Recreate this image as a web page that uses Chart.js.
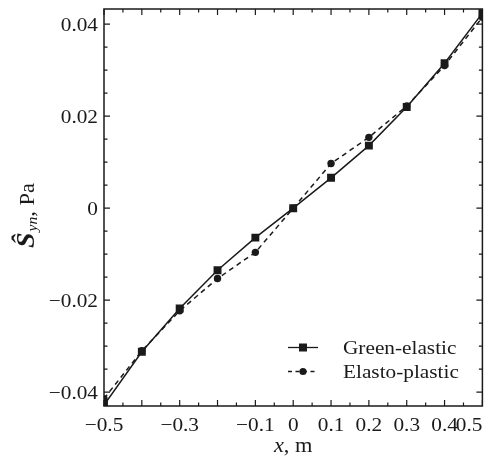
<!DOCTYPE html>
<html><head><meta charset="utf-8">
<script src="https://cdn.jsdelivr.net/npm/chart.js@4/dist/chart.umd.min.js"></script>
<style>html,body{margin:0;padding:0;background:#fff}#wrap{width:488px;height:468px}</style>
</head><body><div id="wrap"><canvas id="c" width="488" height="468"></canvas></div>
<script>
const xValues = [-0.5, -0.4, -0.3, -0.2, -0.1, 0, 0.1, 0.2, 0.3, 0.4, 0.5];
const greenElastic = [-0.0428, -0.0312, -0.0218, -0.0135, -0.0064, 0, 0.0066, 0.0136, 0.0220, 0.0315, 0.0424];
const elastoPlastic = [-0.0414, -0.0310, -0.0223, -0.0153, -0.0096, 0, 0.0097, 0.0154, 0.0222, 0.0310, 0.0415];
const seriesNames = ['Green-elastic', 'Elasto-plastic'];
const xTickValues = [-0.5, -0.3, -0.1, 0, 0.1, 0.2, 0.3, 0.4, 0.5];
const xTickLabels = ['\u22120.5', '\u22120.3', '\u22120.1', '0', '0.1', '0.2', '0.3', '0.4', '0.5'];
const xMajorTicks = [-0.5, -0.4, -0.3, -0.2, -0.1, 0, 0.1, 0.2, 0.3, 0.4, 0.5];
const xMinorTicks = [-0.45, -0.35, -0.25, -0.15, -0.05, 0.05, 0.15, 0.25, 0.35, 0.45];
const yTickValues = [-0.04, -0.02, 0, 0.02, 0.04];
const yTickLabels = ['\u22120.04', '\u22120.02', '0', '0.02', '0.04'];
const yMinorTicks = [-0.035, -0.03, -0.025, -0.015, -0.01, -0.005, 0.005, 0.01, 0.015, 0.025, 0.03, 0.035];
const xTitle = ['x', ', m'];
const yTitle = ['\u015C', 'yn', ', Pa'];

const INK = '#1a1a1a';
const SX = 1.12;
const FAM = '"Liberation Serif", "Times New Roman", Times, serif';
function txt(ctx, s, x, y, font, align) {
  ctx.font = font;
  const w = ctx.measureText(s).width * SX;
  let left = x;
  if (align === 'center') left = x - w / 2;
  else if (align === 'right') left = x - w;
  ctx.save();
  ctx.translate(left, y);
  ctx.scale(SX, 1);
  ctx.textAlign = 'left';
  ctx.fillText(s, 0, 0);
  ctx.restore();
  return w;
}
function tw(ctx, s, font) { ctx.font = font; return ctx.measureText(s).width * SX; }

const framePlugin = {
  id: 'frame',
  afterDraw(chart) {
    const { ctx, chartArea: a, scales: { x, y } } = chart;
    ctx.save();
    ctx.strokeStyle = INK; ctx.fillStyle = INK;
    ctx.lineWidth = 1.5;
    ctx.strokeRect(a.left, a.top, a.right - a.left, a.bottom - a.top);
    ctx.lineWidth = 1.2;
    ctx.beginPath();
    const MJ = 6, MN = 3.5;
    const xt = (v, L) => { const p = x.getPixelForValue(v); ctx.moveTo(p, a.bottom); ctx.lineTo(p, a.bottom - L); ctx.moveTo(p, a.top); ctx.lineTo(p, a.top + L); };
    const yt = (v, L) => { const p = y.getPixelForValue(v); ctx.moveTo(a.left, p); ctx.lineTo(a.left + L, p); ctx.moveTo(a.right, p); ctx.lineTo(a.right - L, p); };
    xMajorTicks.forEach(v => xt(v, MJ)); xMinorTicks.forEach(v => xt(v, MN));
    yTickValues.forEach(v => yt(v, MJ)); yMinorTicks.forEach(v => yt(v, MN));
    ctx.stroke();
    ctx.textBaseline = 'alphabetic';
    const F = '19px ' + FAM;
    xTickValues.forEach((v, i) => {
      const p = x.getPixelForValue(v);
      const w = tw(ctx, xTickLabels[i], F);
      let left = p - w / 2;
      if (left + w > a.right) left = a.right - w;
      txt(ctx, xTickLabels[i], left, a.bottom + 25, F, 'left');
    });
    yTickValues.forEach((v, i) => {
      const p = y.getPixelForValue(v);
      txt(ctx, yTickLabels[i], a.left - 6, p + 6.5, F, 'right');
    });
    // x title
    const FI = 'italic 20px ' + FAM, FN = '20px ' + FAM;
    const w1 = tw(ctx, xTitle[0], FI), w2 = tw(ctx, xTitle[1], FN);
    const cx = (a.left + a.right) / 2;
    let sx = cx - (w1 + w2) / 2;
    txt(ctx, xTitle[0], sx, 452, FI, 'left');
    txt(ctx, xTitle[1], sx + w1, 452, FN, 'left');
    // y title (rotated)
    ctx.save();
    ctx.translate(34, 248);
    ctx.rotate(-Math.PI / 2);
    let px = 0;
    px += txt(ctx, yTitle[0], px, 0, 'bold italic 25px ' + FAM, 'left') + 1;
    px += txt(ctx, yTitle[1], px, 3, 'italic 14px ' + FAM, 'left');
    txt(ctx, yTitle[2], px, 0, '20px ' + FAM, 'left');
    ctx.restore();
    // legend
    const rows = [{ base: a.top + 345, dash: [], style: 'rect' }, { base: a.top + 369, dash: [4, 3.5], style: 'circle' }];
    const lx0 = a.left + 184, lx1 = a.left + 214, tx = a.left + 239;
    rows.forEach((r, i) => {
      const ly = r.base - 6.5;
      ctx.save();
      ctx.lineWidth = 1.3; ctx.setLineDash(r.dash);
      ctx.beginPath(); ctx.moveTo(lx0, ly); ctx.lineTo(lx1, ly); ctx.stroke();
      ctx.restore();
      const mx = (lx0 + lx1) / 2;
      ctx.beginPath();
      if (r.style === 'rect') ctx.rect(mx - 4, ly - 4, 8, 8);
      else ctx.arc(mx, ly, 3.6, 0, Math.PI * 2);
      ctx.fill();
      txt(ctx, seriesNames[i], tx, r.base, F, 'left');
    });
    ctx.restore();
  }
};

function build() {
  new Chart(document.getElementById('c'), {
    type: 'line',
    data: {
      datasets: [
        { label: seriesNames[0], data: xValues.map((v, i) => ({ x: v, y: greenElastic[i] })),
          borderColor: INK, backgroundColor: INK, borderWidth: 1.5, pointStyle: 'rect',
          pointRadius: 5.6, pointBorderWidth: 0, tension: 0, fill: false },
        { label: seriesNames[1], data: xValues.map((v, i) => ({ x: v, y: elastoPlastic[i] })),
          borderColor: INK, backgroundColor: INK, borderWidth: 1.5, borderDash: [5, 4], pointStyle: 'circle',
          pointRadius: 3.7, pointBorderWidth: 0, tension: 0, fill: false }
      ]
    },
    options: {
      responsive: false, animation: false, devicePixelRatio: 1,
      layout: { padding: { left: 104, right: 5, top: 9, bottom: 62 } },
      plugins: { legend: { display: false }, tooltip: { enabled: false } },
      scales: {
        x: { type: 'linear', min: -0.5, max: 0.5, grid: { display: false }, border: { display: false },
             ticks: { display: false }, afterFit(s) { s.height = 0; } },
        y: { type: 'linear', min: -0.043, max: 0.0433, grid: { display: false }, border: { display: false },
             ticks: { display: false }, afterFit(s) { s.width = 0; } }
      }
    },
    plugins: [framePlugin]
  });
}
Promise.all([
  document.fonts.load('19px "Liberation Serif"'),
  document.fonts.load('italic 19px "Liberation Serif"'),
  document.fonts.load('bold italic 19px "Liberation Serif"')
]).then(build, build);
</script>
</body></html>
